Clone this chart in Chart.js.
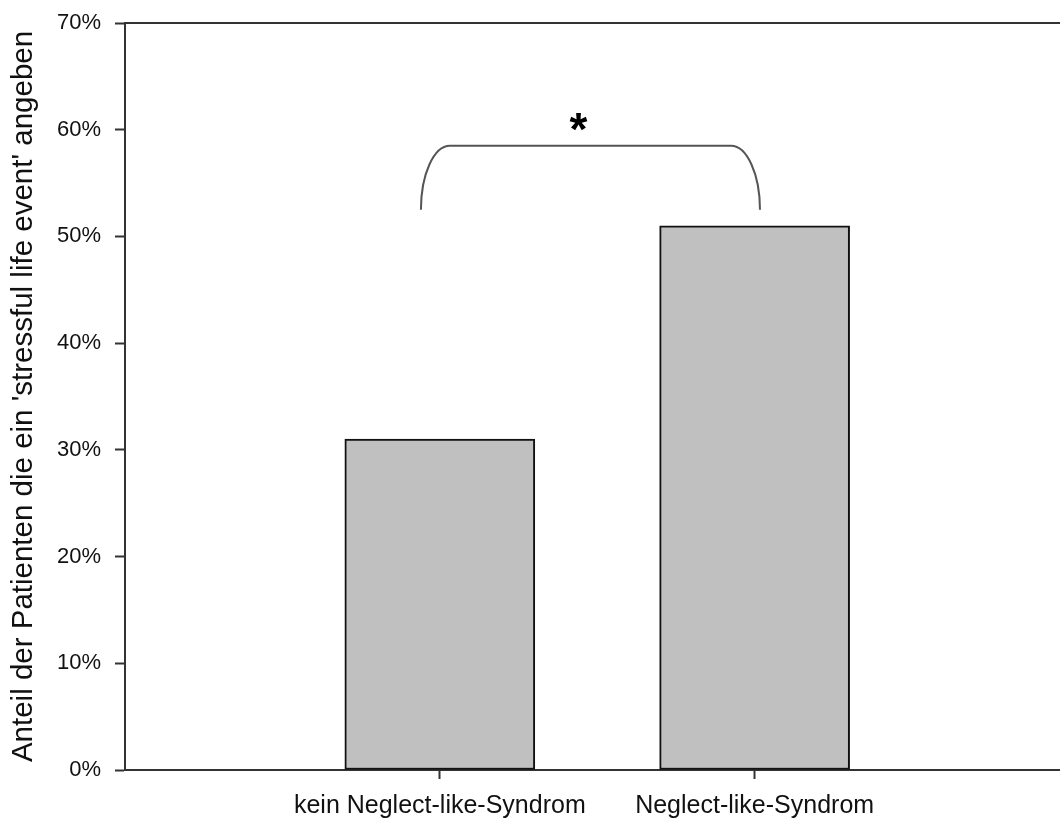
<!DOCTYPE html>
<html>
<head>
<meta charset="utf-8">
<script src="https://cdn.jsdelivr.net/npm/chart.js@4.4.1/dist/chart.umd.min.js"></script>
<style>
  html, body { margin: 0; padding: 0; background: #fff; overflow: hidden; }
  #wrap { width: 1060px; height: 823px; }
</style>
</head>
<body>
<div id="wrap"><canvas id="c" width="1060" height="823"></canvas></div>
<script>
// ---- data ----
const categories = ['kein Neglect-like-Syndrom', 'Neglect-like-Syndrom'];
const categoryPositions = [1, 2];
const shareValues = [31, 51];           // percent
const yTickValues = [0, 10, 20, 30, 40, 50, 60, 70];
const yAxisTitle = "Anteil der Patienten die ein 'stressful life event' angeben";
const significanceLabel = '*';

// ---- annotation (significance bracket) in data units ----
const bracket = { x1: 0.94, x2: 2.017, yLow: 52.5, yHigh: 58.5, cornerX: 0.092, starX: 1.44, starY: 60.6 };

const FONT = "'Liberation Sans', Arial, sans-serif";

const framePlugin = {
  id: 'frame',
  afterDatasetsDraw(chart) {
    const { ctx, chartArea, scales } = chart;
    const xs = scales.x, ys = scales.y;
    ctx.save();
    // top border
    ctx.strokeStyle = '#333';
    ctx.lineWidth = 2;
    ctx.beginPath();
    ctx.moveTo(chartArea.left - 1, chartArea.top);
    ctx.lineTo(chartArea.right + 2, chartArea.top);
    ctx.stroke();
    // bracket
    const xl = xs.getPixelForValue(bracket.x1);
    const xr = xs.getPixelForValue(bracket.x2);
    const yb = ys.getPixelForValue(bracket.yLow);
    const yt = ys.getPixelForValue(bracket.yHigh);
    const rx = xs.getPixelForValue(bracket.x1 + bracket.cornerX) - xl;
    const ry = yb - yt;
    ctx.strokeStyle = '#555';
    ctx.lineWidth = 2;
    ctx.beginPath();
    ctx.ellipse(xl + rx, yb, rx, ry, 0, Math.PI, 1.5 * Math.PI);
    ctx.lineTo(xr - rx, yt);
    ctx.ellipse(xr - rx, yb, rx, ry, 0, 1.5 * Math.PI, 2 * Math.PI);
    ctx.stroke();
    // star
    ctx.fillStyle = '#000';
    ctx.font = 'bold 46px ' + FONT;
    ctx.textAlign = 'center';
    ctx.textBaseline = 'middle';
    ctx.fillText(significanceLabel, xs.getPixelForValue(bracket.starX), ys.getPixelForValue(bracket.starY) + 9);
    ctx.restore();
  }
};

new Chart(document.getElementById('c'), {
  type: 'bar',
  data: {
    datasets: [{
      data: categoryPositions.map((x, i) => ({ x: x, y: shareValues[i] })),
      backgroundColor: '#c0c0c0',
      borderColor: '#111',
      borderWidth: 2,
      barThickness: 190,
      borderSkipped: false
    }]
  },
  options: {
    responsive: false,
    animation: false,
    devicePixelRatio: 1,
    layout: { padding: { top: 23, right: 0, bottom: 0, left: 0 } },
    plugins: { legend: { display: false }, tooltip: { enabled: false } },
    scales: {
      x: {
        type: 'linear',
        min: 0,
        max: 2.97,
        offset: false,
        afterBuildTicks(scale) { scale.ticks = categoryPositions.map(v => ({ value: v })); },
        afterFit(scale) { scale.height = 53; scale.paddingLeft = 0; scale.paddingRight = 0; },
        grid: { offset: false, drawOnChartArea: false, drawTicks: true, tickLength: 9, tickWidth: 2, tickColor: '#333' },
        border: { display: true, color: '#333', width: 2 },
        ticks: {
          color: '#111',
          font: { family: FONT, size: 25 },
          padding: 12,
          maxRotation: 0,
          autoSkip: false,
          callback: (v) => categories[categoryPositions.indexOf(v)] || ''
        }
      },
      y: {
        min: 0,
        max: 70,
        afterBuildTicks(scale) { scale.ticks = yTickValues.map(v => ({ value: v })); },
        afterFit(scale) { scale.width = 125; scale.paddingTop = 0; scale.paddingBottom = 0; },
        grid: { drawOnChartArea: false, drawTicks: true, tickLength: 10, tickWidth: 2, tickColor: '#333' },
        border: { display: true, color: '#333', width: 2 },
        ticks: {
          color: '#111',
          font: { family: FONT, size: 22 },
          padding: 14,
          callback: (v) => v + '%'
        },
        title: {
          display: true,
          text: yAxisTitle,
          color: '#111',
          font: { family: FONT, size: 29.5 },
          padding: { top: 6, bottom: 0 }
        }
      }
    }
  },
  plugins: [framePlugin]
});
</script>
</body>
</html>
